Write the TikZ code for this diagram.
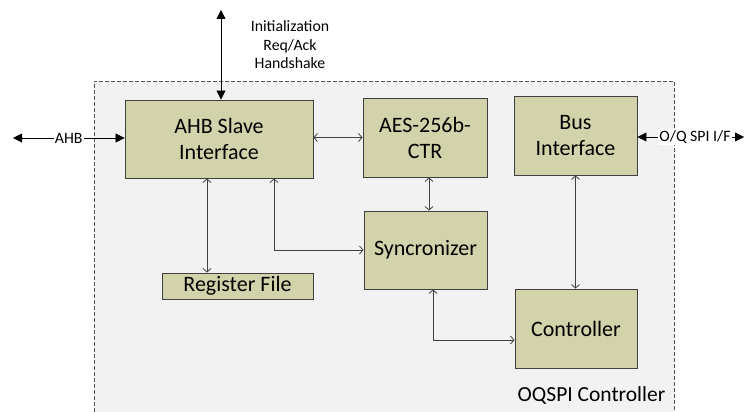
\documentclass[tikz,border=0pt]{standalone}
\usepackage{fontspec}
\setmainfont{Carlito}
\usetikzlibrary{arrows.meta}
\definecolor{boxfill}{RGB}{211,211,171}
\definecolor{panel}{RGB}{242,242,242}
\definecolor{edge}{RGB}{64,64,64}
\begin{document}
\begin{tikzpicture}[x=1pt, y=-1pt,
	block/.style={draw=edge, fill=boxfill, line width=0.9pt, inner sep=0pt, align=center, font=\fontsize{22}{26}\selectfont},
	link/.style={draw=edge, line width=0.8pt, {Straight Barb[length=3.5pt,width=8pt]}-{Straight Barb[length=3.5pt,width=8pt]}},
	port/.style={draw=black, line width=0.8pt, {Triangle[length=9pt,width=9pt]}-{Triangle[length=9pt,width=9pt]}},
	tag/.style={font=\fontsize{15.8}{18.5}\selectfont, align=center, inner sep=1pt}]
	\useasboundingbox (0,0) rectangle (745,412);
	\clip (0,0) rectangle (745,412);
	% controller panel, runs off the bottom edge
	\fill[panel] (94,81) rectangle (674,430);
	\draw[edge!90, line width=0.9pt, dash pattern=on 4pt off 2pt] (94,430) -- (94,81) -- (674,81) -- (674,430);
	\node[font=\fontsize{21.5}{25}\selectfont] (title) at (591.5,395) {OQSPI Controller};
	% blocks
	\node[block, minimum width=188pt, minimum height=78pt] (ahb) at (219,139) {AHB Slave\\Interface};
	\node[block, minimum width=124pt, minimum height=79pt] (aes) at (425,137.5) {AES-256b-\\CTR};
	\node[block, minimum width=123pt, minimum height=79pt] (bus) at (575.5,135.5) {Bus\\Interface};
	\node[block, minimum width=123pt, minimum height=78pt] (sync) at (425.5,250) {Syncronizer};
	\node[block, minimum width=151pt, minimum height=26pt] (reg) at (237.5,286) {Register File};
	\node[block, minimum width=122pt, minimum height=79pt] (ctrl) at (576,328.5) {Controller};
	% outside ports
	\coordinate (hs) at (221,10);
	\coordinate (ahbin) at (13,138);
	\coordinate (spiout) at (744,137);
	\node[tag] (hstext) at (290,45) {Initialization\\Req/Ack\\Handshake};
	\draw[port] (hs) -- (hs |- ahb.north);
	\draw[port] (ahbin) -- node[tag, fill=white] {AHB} (ahbin -| ahb.west);
	\draw[port] (spiout -| bus.east) -- node[tag, fill=white, pos=0.54] {O/Q SPI I/F} (spiout);
	% internal links
	\draw[link] (aes.west -| ahb.east) -- (aes.west);
	\draw[link] ([xshift=4pt]aes.south) -- ([xshift=4pt]aes.south |- sync.north);
	\draw[link] ([xshift=-12pt]ahb.south) -- ([xshift=-12pt]ahb.south |- reg.north);
	\draw[link] ([xshift=55pt]ahb.south) |- (sync.west);
	\draw[link] ([xshift=7.5pt]sync.south) |- ([yshift=-11.5pt]ctrl.west);
	\draw[link] (bus.south) -- (bus.south |- ctrl.north);
\end{tikzpicture}
\end{document}
